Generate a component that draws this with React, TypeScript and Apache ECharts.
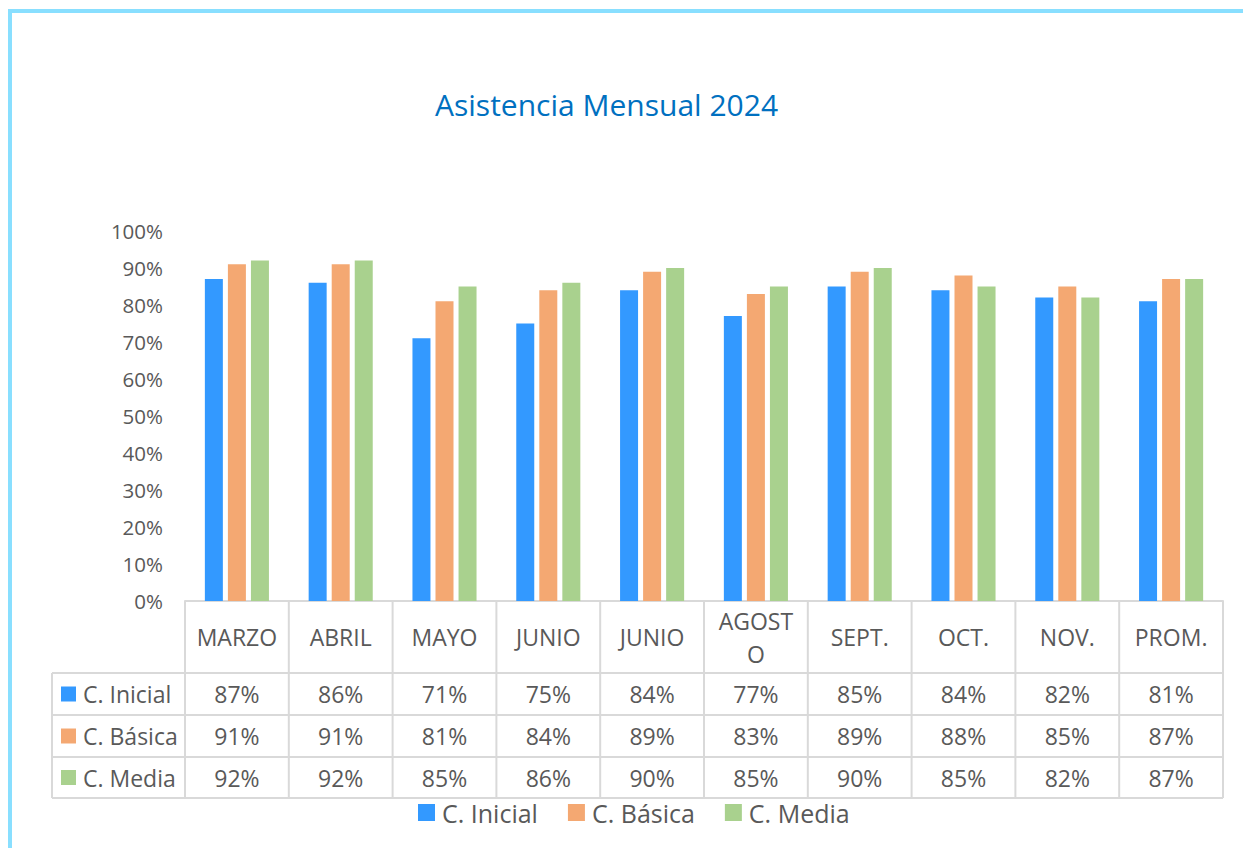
import React, { useEffect, useRef } from "react";
import * as echarts from "echarts";

// ---- data ----
const categories = ["MARZO", "ABRIL", "MAYO", "JUNIO", "JUNIO", "AGOSTO", "SEPT.", "OCT.", "NOV.", "PROM."];
const seriesNames = ["C. Inicial", "C. Básica", "C. Media"];
const inicial = [87, 86, 71, 75, 84, 77, 85, 84, 82, 81];
const basica = [91, 91, 81, 84, 89, 83, 89, 88, 85, 87];
const media = [92, 92, 85, 86, 90, 85, 90, 85, 82, 87];
const titleText = "Asistencia Mensual 2024";

// ---- style ----
const colors = ["#3399FF", "#F4A872", "#A9D18E"];
const FONT = "'Open Sans', sans-serif";
const TEXT = "#595959";
const LINE = "#D9D9D9";
const W = 1243;
const H = 848;
const PLOT_L = 185;
const PLOT_R = 1223;
const PLOT_T = 231;
const AXIS_Y = 601;
const TABLE_L = 52;
const HEADER_B = 673;
const ROW_B = [715, 757, 798];

export default function App() {
  const ref = useRef<HTMLDivElement>(null);

  useEffect(() => {
    if (!ref.current) return;
    const chart = echarts.init(ref.current, null, { renderer: "svg" });
    const seriesData = [inicial, basica, media];
    const colW = (PLOT_R - PLOT_L) / categories.length;

    const graphics: any[] = [];
    // frame lines
    graphics.push({ type: "rect", shape: { x: 8, y: 9, width: W - 8, height: 4 }, style: { fill: "#89DFFF" }, silent: true });
    graphics.push({ type: "rect", shape: { x: 8, y: 9, width: 4, height: H - 9 }, style: { fill: "#89DFFF" }, silent: true });

    // table horizontal lines
    const hLines = [HEADER_B, ...ROW_B];
    hLines.forEach((y) => {
      graphics.push({ type: "line", shape: { x1: TABLE_L, y1: y, x2: PLOT_R, y2: y }, style: { stroke: LINE, lineWidth: 2 }, silent: true });
    });
    // table vertical lines
    graphics.push({ type: "line", shape: { x1: TABLE_L, y1: HEADER_B, x2: TABLE_L, y2: ROW_B[2] }, style: { stroke: LINE, lineWidth: 2 }, silent: true });
    for (let i = 0; i <= categories.length; i++) {
      const x = PLOT_L + colW * i;
      graphics.push({ type: "line", shape: { x1: x, y1: AXIS_Y, x2: x, y2: ROW_B[2] }, style: { stroke: LINE, lineWidth: 2 }, silent: true });
    }
    // header labels
    categories.forEach((c, i) => {
      graphics.push({
        type: "text",
        x: PLOT_L + colW * (i + 0.5),
        y: (AXIS_Y + HEADER_B) / 2,
        style: {
          text: c,
          fontFamily: FONT,
          fontSize: 23,
          fill: TEXT,
          align: "center",
          verticalAlign: "middle",
          width: 84,
          overflow: "breakAll",
          lineHeight: 33,
        },
        silent: true,
      });
    });
    // rows
    const rowTops = [HEADER_B, ...ROW_B];
    seriesNames.forEach((name, r) => {
      const cy = (rowTops[r] + rowTops[r + 1]) / 2;
      graphics.push({ type: "rect", shape: { x: 61, y: cy - 7.5, width: 15, height: 15 }, style: { fill: colors[r] }, silent: true });
      graphics.push({
        type: "text",
        x: 83,
        y: cy,
        style: { text: name, fontFamily: FONT, fontSize: 23, fill: TEXT, align: "left", verticalAlign: "middle" },
        silent: true,
      });
      seriesData[r].forEach((v, i) => {
        graphics.push({
          type: "text",
          x: PLOT_L + colW * (i + 0.5),
          y: cy,
          style: { text: v + "%", fontFamily: FONT, fontSize: 23, fill: TEXT, align: "center", verticalAlign: "middle" },
          silent: true,
        });
      });
    });

    chart.setOption({
      animation: false,
      backgroundColor: "#ffffff",
      title: {
        text: titleText,
        left: 430,
        top: 84,
        textStyle: { fontFamily: FONT, fontSize: 30, fontWeight: "normal", color: "#0070C0" },
      },
      legend: {
        data: seriesNames,
        left: 413,
        top: 795,
        icon: "rect",
        itemWidth: 17,
        itemHeight: 17,
        itemGap: 30,
        textStyle: { fontFamily: FONT, fontSize: 25, color: TEXT, padding: [0, 0, 0, 2] },
      },
      grid: { left: PLOT_L, right: W - PLOT_R, top: PLOT_T, bottom: H - AXIS_Y, containLabel: false },
      xAxis: {
        type: "category",
        data: categories,
        axisLine: { show: true, lineStyle: { color: LINE, width: 2 } },
        axisTick: { show: false },
        axisLabel: { show: false },
      },
      yAxis: {
        type: "value",
        min: 0,
        max: 100,
        interval: 10,
        splitLine: { show: false },
        axisLine: { show: false },
        axisTick: { show: false },
        axisLabel: { formatter: "{value}%", fontFamily: FONT, fontSize: 20.5, color: TEXT, margin: 22 },
      },
      series: seriesNames.map((name, r) => ({
        name,
        type: "bar",
        data: seriesData[r],
        barWidth: 18,
        barGap: "28%",
        itemStyle: { color: colors[r] },
      })),
      graphic: graphics,
    });

    return () => chart.dispose();
  }, []);

  return <div ref={ref} style={{ position: "absolute", left: 0, top: 0, width: W, height: H }} />;
}
